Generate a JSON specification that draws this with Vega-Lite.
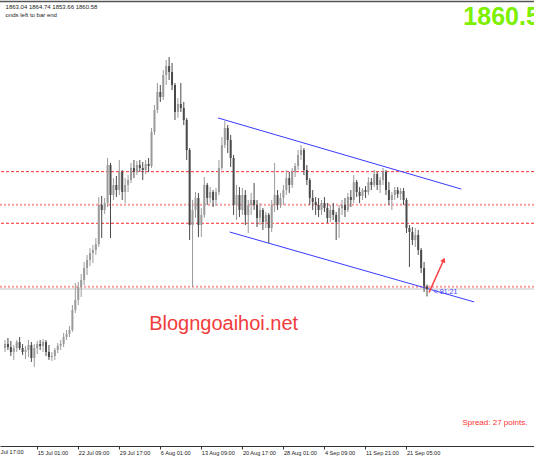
{
"$schema": "https://vega.github.io/schema/vega-lite/v6.json",
"autosize": "none",
"padding": {"left": 0, "top": 0, "right": 0, "bottom": 16},
"width": 534,
"height": 446,
"background": "white",
"config": {"view": {"stroke": null}},
"datasets": {
"candles": [
{"t":0,"o":1806.0,"h":1813.4,"l":1802.4,"c":1809.7},
{"t":1,"o":1809.7,"h":1815.3,"l":1804.2,"c":1806.9},
{"t":2,"o":1806.9,"h":1812.5,"l":1798.7,"c":1802.4},
{"t":3,"o":1802.4,"h":1808.8,"l":1795.0,"c":1806.0},
{"t":4,"o":1806.0,"h":1813.4,"l":1802.4,"c":1811.6},
{"t":5,"o":1811.6,"h":1816.2,"l":1804.2,"c":1806.0},
{"t":6,"o":1806.0,"h":1809.7,"l":1799.6,"c":1802.4},
{"t":7,"o":1802.4,"h":1807.9,"l":1795.9,"c":1804.2},
{"t":8,"o":1804.2,"h":1813.4,"l":1797.7,"c":1808.8},
{"t":9,"o":1808.8,"h":1811.6,"l":1793.2,"c":1796.8},
{"t":10,"o":1796.8,"h":1809.7,"l":1788.5,"c":1806.0},
{"t":11,"o":1806.0,"h":1812.5,"l":1800.5,"c":1809.7},
{"t":12,"o":1809.7,"h":1813.4,"l":1804.2,"c":1807.9},
{"t":13,"o":1807.9,"h":1814.3,"l":1802.4,"c":1811.6},
{"t":14,"o":1811.6,"h":1813.4,"l":1798.7,"c":1802.4},
{"t":15,"o":1802.4,"h":1808.8,"l":1795.0,"c":1797.7},
{"t":16,"o":1797.7,"h":1802.4,"l":1794.1,"c":1798.7},
{"t":17,"o":1798.7,"h":1806.0,"l":1795.0,"c":1804.2},
{"t":18,"o":1804.2,"h":1810.6,"l":1801.4,"c":1807.9},
{"t":19,"o":1807.9,"h":1813.4,"l":1804.2,"c":1809.7},
{"t":20,"o":1809.7,"h":1819.9,"l":1806.9,"c":1816.2},
{"t":21,"o":1816.2,"h":1822.7,"l":1813.4,"c":1819.0},
{"t":22,"o":1819.0,"h":1826.4,"l":1816.2,"c":1822.7},
{"t":23,"o":1822.7,"h":1845.8,"l":1820.9,"c":1841.2},
{"t":24,"o":1841.2,"h":1866.1,"l":1838.4,"c":1850.4},
{"t":25,"o":1850.4,"h":1867.0,"l":1845.8,"c":1862.4},
{"t":26,"o":1862.4,"h":1874.4,"l":1853.2,"c":1868.9},
{"t":27,"o":1868.9,"h":1885.5,"l":1864.2,"c":1880.0},
{"t":28,"o":1880.0,"h":1892.0,"l":1873.5,"c":1887.4},
{"t":29,"o":1887.4,"h":1898.4,"l":1881.8,"c":1893.8},
{"t":30,"o":1893.8,"h":1901.2,"l":1884.6,"c":1896.6},
{"t":31,"o":1896.6,"h":1907.7,"l":1892.0,"c":1902.1},
{"t":32,"o":1902.1,"h":1945.6,"l":1899.4,"c":1938.2},
{"t":33,"o":1938.2,"h":1946.5,"l":1907.7,"c":1933.6},
{"t":34,"o":1933.6,"h":1944.7,"l":1929.9,"c":1940.0},
{"t":35,"o":1940.0,"h":1981.6,"l":1936.3,"c":1975.1},
{"t":36,"o":1975.1,"h":1977.0,"l":1907.7,"c":1947.4},
{"t":37,"o":1947.4,"h":1963.1,"l":1942.8,"c":1956.7},
{"t":38,"o":1956.7,"h":1965.0,"l":1945.6,"c":1952.0},
{"t":39,"o":1952.0,"h":1979.8,"l":1947.4,"c":1968.7},
{"t":40,"o":1968.7,"h":1970.5,"l":1942.8,"c":1950.2},
{"t":41,"o":1950.2,"h":1963.1,"l":1940.0,"c":1956.7},
{"t":42,"o":1956.7,"h":1965.9,"l":1950.2,"c":1961.3},
{"t":43,"o":1961.3,"h":1977.0,"l":1958.5,"c":1972.4},
{"t":44,"o":1972.4,"h":1979.8,"l":1963.1,"c":1968.7},
{"t":45,"o":1968.7,"h":1978.8,"l":1965.9,"c":1975.1},
{"t":46,"o":1975.1,"h":1979.8,"l":1968.7,"c":1972.4},
{"t":47,"o":1972.4,"h":1977.9,"l":1961.3,"c":1970.5},
{"t":48,"o":1970.5,"h":1979.8,"l":1966.8,"c":1976.1},
{"t":49,"o":1976.1,"h":1981.6,"l":1968.7,"c":1974.2},
{"t":50,"o":1974.2,"h":2009.3,"l":1972.4,"c":2005.6},
{"t":51,"o":2005.6,"h":2030.6,"l":2002.9,"c":2026.0},
{"t":52,"o":2026.0,"h":2050.9,"l":2023.2,"c":2042.6},
{"t":53,"o":2042.6,"h":2049.1,"l":2033.4,"c":2038.0},
{"t":54,"o":2038.0,"h":2062.9,"l":2035.2,"c":2058.3},
{"t":55,"o":2058.3,"h":2072.2,"l":2049.1,"c":2066.6},
{"t":56,"o":2066.6,"h":2074.9,"l":2053.7,"c":2061.1},
{"t":57,"o":2061.1,"h":2069.4,"l":2044.4,"c":2049.1},
{"t":58,"o":2049.1,"h":2050.9,"l":2016.7,"c":2024.1},
{"t":59,"o":2024.1,"h":2037.0,"l":2018.6,"c":2031.5},
{"t":60,"o":2031.5,"h":2050.9,"l":2024.1,"c":2027.8},
{"t":61,"o":2027.8,"h":2033.4,"l":2012.1,"c":2016.7},
{"t":62,"o":2016.7,"h":2018.6,"l":1979.8,"c":1989.0},
{"t":63,"o":1989.0,"h":1990.8,"l":1905.8,"c":1919.7},
{"t":64,"o":1919.7,"h":1942.8,"l":1862.4,"c":1933.6},
{"t":65,"o":1933.6,"h":1950.2,"l":1926.2,"c":1944.7},
{"t":66,"o":1944.7,"h":1949.3,"l":1908.6,"c":1919.7},
{"t":67,"o":1919.7,"h":1935.4,"l":1908.6,"c":1929.0},
{"t":68,"o":1929.0,"h":1964.0,"l":1926.2,"c":1956.7},
{"t":69,"o":1956.7,"h":1958.5,"l":1938.2,"c":1944.7},
{"t":70,"o":1944.7,"h":1954.8,"l":1940.0,"c":1950.2},
{"t":71,"o":1950.2,"h":1952.0,"l":1936.3,"c":1942.8},
{"t":72,"o":1942.8,"h":1953.9,"l":1937.2,"c":1950.2},
{"t":73,"o":1950.2,"h":1979.8,"l":1947.4,"c":1972.4},
{"t":74,"o":1972.4,"h":2001.0,"l":1970.5,"c":1993.6},
{"t":75,"o":1993.6,"h":2015.8,"l":1990.8,"c":2009.3},
{"t":76,"o":2009.3,"h":2012.1,"l":1986.2,"c":1998.2},
{"t":77,"o":1998.2,"h":2002.9,"l":1973.3,"c":1981.6},
{"t":78,"o":1981.6,"h":1984.4,"l":1929.0,"c":1938.2},
{"t":79,"o":1938.2,"h":1956.7,"l":1924.3,"c":1947.4},
{"t":80,"o":1947.4,"h":1954.8,"l":1927.1,"c":1933.6},
{"t":81,"o":1933.6,"h":1953.9,"l":1929.0,"c":1947.4},
{"t":82,"o":1947.4,"h":1952.0,"l":1919.7,"c":1929.0},
{"t":83,"o":1929.0,"h":1942.8,"l":1912.3,"c":1938.2},
{"t":84,"o":1938.2,"h":1949.3,"l":1929.0,"c":1942.8},
{"t":85,"o":1942.8,"h":1958.5,"l":1933.6,"c":1938.2},
{"t":86,"o":1938.2,"h":1942.8,"l":1917.8,"c":1926.2},
{"t":87,"o":1926.2,"h":1940.0,"l":1919.7,"c":1933.6},
{"t":88,"o":1933.6,"h":1935.4,"l":1915.1,"c":1922.5},
{"t":89,"o":1922.5,"h":1931.7,"l":1916.9,"c":1929.0},
{"t":90,"o":1929.0,"h":1930.8,"l":1903.1,"c":1916.9},
{"t":91,"o":1916.9,"h":1942.8,"l":1913.2,"c":1938.2},
{"t":92,"o":1938.2,"h":1977.0,"l":1931.7,"c":1947.4},
{"t":93,"o":1947.4,"h":1952.0,"l":1933.6,"c":1938.2},
{"t":94,"o":1938.2,"h":1949.3,"l":1935.4,"c":1944.7},
{"t":95,"o":1944.7,"h":1956.7,"l":1938.2,"c":1952.0},
{"t":96,"o":1952.0,"h":1970.5,"l":1947.4,"c":1963.1},
{"t":97,"o":1963.1,"h":1968.7,"l":1949.3,"c":1956.7},
{"t":98,"o":1956.7,"h":1972.4,"l":1953.9,"c":1968.7},
{"t":99,"o":1968.7,"h":1977.0,"l":1964.0,"c":1974.2},
{"t":100,"o":1974.2,"h":1989.0,"l":1970.5,"c":1984.4},
{"t":101,"o":1984.4,"h":1993.6,"l":1979.8,"c":1989.0},
{"t":102,"o":1989.0,"h":1990.8,"l":1965.9,"c":1970.5},
{"t":103,"o":1970.5,"h":1975.1,"l":1956.7,"c":1961.3},
{"t":104,"o":1961.3,"h":1963.1,"l":1938.2,"c":1944.7},
{"t":105,"o":1944.7,"h":1952.0,"l":1933.6,"c":1941.0},
{"t":106,"o":1941.0,"h":1945.6,"l":1929.0,"c":1938.2},
{"t":107,"o":1938.2,"h":1944.7,"l":1927.1,"c":1933.6},
{"t":108,"o":1933.6,"h":1942.8,"l":1929.0,"c":1940.0},
{"t":109,"o":1940.0,"h":1945.6,"l":1931.7,"c":1935.4},
{"t":110,"o":1935.4,"h":1940.0,"l":1921.5,"c":1926.2},
{"t":111,"o":1926.2,"h":1938.2,"l":1922.5,"c":1933.6},
{"t":112,"o":1933.6,"h":1940.0,"l":1924.3,"c":1929.0},
{"t":113,"o":1929.0,"h":1931.7,"l":1905.8,"c":1922.5},
{"t":114,"o":1922.5,"h":1938.2,"l":1907.7,"c":1935.4},
{"t":115,"o":1935.4,"h":1942.8,"l":1929.0,"c":1938.2},
{"t":116,"o":1938.2,"h":1944.7,"l":1927.1,"c":1933.6},
{"t":117,"o":1933.6,"h":1949.3,"l":1931.7,"c":1945.6},
{"t":118,"o":1945.6,"h":1952.0,"l":1936.3,"c":1942.8},
{"t":119,"o":1942.8,"h":1965.9,"l":1940.0,"c":1959.4},
{"t":120,"o":1959.4,"h":1961.3,"l":1945.6,"c":1950.2},
{"t":121,"o":1950.2,"h":1954.8,"l":1940.0,"c":1946.5},
{"t":122,"o":1946.5,"h":1953.9,"l":1942.8,"c":1952.0},
{"t":123,"o":1952.0,"h":1955.7,"l":1944.7,"c":1950.2},
{"t":124,"o":1950.2,"h":1964.0,"l":1947.4,"c":1959.4},
{"t":125,"o":1959.4,"h":1963.1,"l":1952.0,"c":1956.7},
{"t":126,"o":1956.7,"h":1970.5,"l":1954.8,"c":1966.8},
{"t":127,"o":1966.8,"h":1968.7,"l":1952.0,"c":1956.7},
{"t":128,"o":1956.7,"h":1964.0,"l":1949.3,"c":1961.3},
{"t":129,"o":1961.3,"h":1972.4,"l":1956.7,"c":1968.7},
{"t":130,"o":1968.7,"h":1970.5,"l":1947.4,"c":1952.0},
{"t":131,"o":1952.0,"h":1959.4,"l":1938.2,"c":1942.8},
{"t":132,"o":1942.8,"h":1950.2,"l":1933.6,"c":1947.4},
{"t":133,"o":1947.4,"h":1954.8,"l":1942.8,"c":1952.0},
{"t":134,"o":1952.0,"h":1954.8,"l":1944.7,"c":1948.3},
{"t":135,"o":1948.3,"h":1953.9,"l":1942.8,"c":1951.1},
{"t":136,"o":1951.1,"h":1953.9,"l":1938.2,"c":1942.8},
{"t":137,"o":1942.8,"h":1944.7,"l":1912.3,"c":1916.9},
{"t":138,"o":1916.9,"h":1919.7,"l":1880.9,"c":1913.2},
{"t":139,"o":1913.2,"h":1917.8,"l":1901.2,"c":1905.8},
{"t":140,"o":1905.8,"h":1916.9,"l":1899.4,"c":1910.5},
{"t":141,"o":1910.5,"h":1915.1,"l":1892.0,"c":1896.6},
{"t":142,"o":1896.6,"h":1898.4,"l":1875.4,"c":1880.0},
{"t":143,"o":1880.0,"h":1885.5,"l":1857.8,"c":1863.04},
{"t":144,"o":1863.04,"h":1864.74,"l":1853.66,"c":1860.58}
]
},
"layer": [
{
"data": {"values": [{"p": 1969.0}, {"p": 1921.3}]},
"mark": {"type": "rule", "color": "#ff2a2a", "strokeWidth": 1, "strokeDash": [3, 2]},
"encoding": {"y": {"field": "p", "type": "quantitative", "scale": {"domain": [1715.5, 2127.6], "nice": false, "zero": false}, "axis": null}}
},
{
"data": {"values": [{"p": 1938.5}, {"p": 1862.7}]},
"mark": {"type": "rule", "color": "#ff9a9a", "strokeWidth": 2, "strokeDash": [2, 2]},
"encoding": {"y": {"field": "p", "type": "quantitative"}}
},
{
"data": {"values": [{"p": 1860.58}]},
"mark": {"type": "rule", "color": "#c4c4c4", "strokeWidth": 1},
"encoding": {"y": {"field": "p", "type": "quantitative"}}
},
{
"data": {"values": [{"p": 2126.2}]},
"mark": {"type": "rule", "color": "#555555", "strokeWidth": 1.5},
"encoding": {"y": {"field": "p", "type": "quantitative"}}
},
{
"data": {"values": [{"t1": 72.7, "p1": 2018.6, "t2": 155.7, "p2": 1952.9}, {"t1": 76.7, "p1": 1913.2, "t2": 160.1, "p2": 1848.6}]},
"mark": {"type": "rule", "color": "#3a3aff", "strokeWidth": 1},
"encoding": {
"x": {"field": "t1", "type": "quantitative"},
"y": {"field": "p1", "type": "quantitative"},
"x2": {"field": "t2"},
"y2": {"field": "p2"}
}
},
{
"data": {"name": "candles"},
"mark": {"type": "rule", "strokeWidth": 1},
"encoding": {
"x": {"field": "t", "type": "quantitative", "scale": {"domain": [0, 178.8], "nice": false, "zero": false},
"axis": {"values": [11, 25, 39, 53, 67, 81, 95, 109, 123, 137],
"labelExpr": "['8 Jul 17:00','15 Jul 01:00','22 Jul 09:00','29 Jul 17:00','6 Aug 01:00','13 Aug 09:00','20 Aug 17:00','28 Aug 01:00','4 Sep 09:00','11 Sep 21:00','21 Sep 05:00'][round((datum.value+3)/14)]",
"title": null, "grid": false, "domainColor": "#333333", "tickColor": "#333333", "tickSize": 3,
"labelFont": "Liberation Sans", "labelFontSize": 5.6, "labelColor": "#222222", "labelAlign": "left", "labelBaseline": "top",
"labelPadding": 1, "labelOverlap": false, "labelFlush": false, "labelBound": false, "labelOffset": 0}},
"y": {"field": "l", "type": "quantitative"},
"y2": {"field": "h"},
"color": {"condition": {"test": "datum.c >= datum.o", "value": "#9a9a9a"}, "value": "#4a4a4a"}
}
},
{
"data": {"name": "candles"},
"mark": {"type": "bar", "width": 2},
"encoding": {
"x": {"field": "t", "type": "quantitative"},
"y": {"field": "o", "type": "quantitative"},
"y2": {"field": "c"},
"color": {"condition": {"test": "datum.c >= datum.o", "value": "#9a9a9a"}, "value": "#4a4a4a"}
}
},
{
"data": {"values": [{"t": -3, "p": 1711.8, "txt": "8 Jul 17:00"}]},
"mark": {"type": "text", "align": "left", "baseline": "top", "font": "Liberation Sans", "fontSize": 5.6, "color": "#222222", "clip": false},
"encoding": {"x": {"field": "t", "type": "quantitative"}, "y": {"field": "p", "type": "quantitative"}, "text": {"field": "txt"}}
},
{
"data": {"values": [{"t1": 144.7, "p1": 1857.4, "t2": 149.7, "p2": 1887.4}]},
"mark": {"type": "rule", "color": "#ff4040", "strokeWidth": 1.5},
"encoding": {
"x": {"field": "t1", "type": "quantitative"},
"y": {"field": "p1", "type": "quantitative"},
"x2": {"field": "t2"},
"y2": {"field": "p2"}
}
},
{
"data": {"values": [{"t": 149.7, "p": 1887.4}]},
"mark": {"type": "point", "shape": "triangle-up", "filled": true, "color": "#ff4040", "size": 30, "angle": 24, "opacity": 1},
"encoding": {
"x": {"field": "t", "type": "quantitative"},
"y": {"field": "p", "type": "quantitative"}
}
},
{
"data": {"values": [{"t": 146.3, "p": 1857.8, "txt": "< 91:21"}]},
"mark": {"type": "text", "align": "left", "baseline": "middle", "font": "Liberation Sans", "fontSize": 7, "color": "#3a3aff"},
"encoding": {"x": {"field": "t", "type": "quantitative"}, "y": {"field": "p", "type": "quantitative"}, "text": {"field": "txt"}}
},
{
"data": {"values": [{"t": 74.6, "p": 1828.2, "txt": "Blogngoaihoi.net"}]},
"mark": {"type": "text", "align": "center", "baseline": "middle", "font": "Liberation Sans", "fontSize": 20, "color": "#f03c3c"},
"encoding": {"x": {"field": "t", "type": "quantitative"}, "y": {"field": "p", "type": "quantitative"}, "text": {"field": "txt"}}
},
{
"data": {"values": [{"t": 156.1, "p": 1736.7, "txt": "Spread: 27 points."}]},
"mark": {"type": "text", "align": "left", "baseline": "middle", "font": "Liberation Sans", "fontSize": 8, "color": "#ff3030"},
"encoding": {"x": {"field": "t", "type": "quantitative"}, "y": {"field": "p", "type": "quantitative"}, "text": {"field": "txt"}}
},
{
"data": {"values": [{"t": 156.4, "p": 2111.9, "txt": "1860.58"}]},
"mark": {"type": "text", "align": "left", "baseline": "middle", "font": "Liberation Sans", "fontSize": 25, "fontWeight": "bold", "color": "#7cf000"},
"encoding": {"x": {"field": "t", "type": "quantitative"}, "y": {"field": "p", "type": "quantitative"}, "text": {"field": "txt"}}
},
{
"data": {"values": [{"t": 0.2, "p": 2121.1, "txt": "1863.04 1864.74 1853.66 1860.58"}, {"t": 0.2, "p": 2113.7, "txt": "onds left to bar end"}]},
"mark": {"type": "text", "align": "left", "baseline": "middle", "font": "Liberation Sans", "fontSize": 6, "color": "#222222"},
"encoding": {"x": {"field": "t", "type": "quantitative"}, "y": {"field": "p", "type": "quantitative"}, "text": {"field": "txt"}}
}
]
}
